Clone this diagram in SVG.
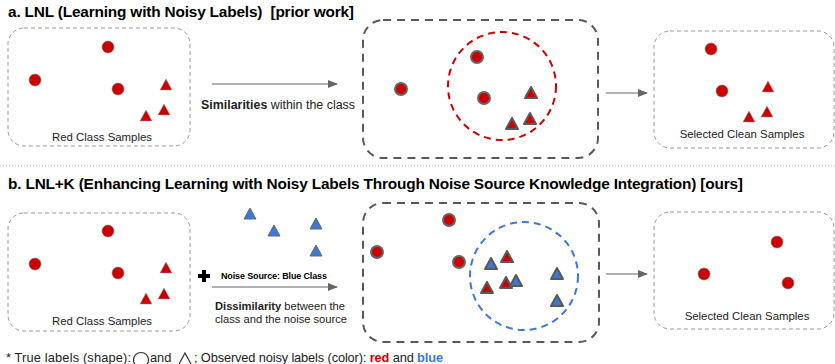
<svg xmlns="http://www.w3.org/2000/svg" width="835" height="364" viewBox="0 0 835 364">
<style>
text{font-family:"Liberation Sans",Arial,sans-serif;fill:#000}
.title{font-size:15.4px;font-weight:bold}
.lbl{font-size:11.4px;fill:#222}
.desc{font-size:12.4px;fill:#222}
.desc2{font-size:11.2px;fill:#222}
.leg{font-size:12.8px;fill:#222}
.thin{fill:none;stroke:#999;stroke-width:1;stroke-dasharray:4 3}
.thick{fill:none;stroke:#595959;stroke-width:2;stroke-dasharray:8 6}
.rc{fill:#cc0000;stroke:#777;stroke-width:0.6}
.rcs{fill:#cc0000;stroke:#666;stroke-width:2}
.bt{fill:#3c78d8;stroke:#666;stroke-width:1}
.bts{fill:#3c78d8;stroke:#595959;stroke-width:2;stroke-linejoin:round}
.rts{fill:#cc0000;stroke:#595959;stroke-width:2;stroke-linejoin:round}
.rt{fill:#cc0000;stroke:#999;stroke-width:0.5}
.arr{stroke:#666;stroke-width:1.2;fill:none;marker-end:url(#ah)}
</style>
<defs>
<marker id="ah" markerWidth="10" markerHeight="8" refX="9" refY="4" orient="auto" markerUnits="userSpaceOnUse">
<path d="M0,0 L10,4 L0,8 z" fill="#666"/>
</marker>
<path id="tri" d="M0,-6 L6,5 L-6,5 z"/>
</defs>

<g id="titles">
<text class="title" x="8" y="17" xml:space="preserve" textLength="346">a. LNL (Learning with Noisy Labels)  [prior work]</text>
<text class="title" x="8" y="189" textLength="735">b. LNL+K (Enhancing Learning with Noisy Labels Through Noise Source Knowledge Integration) [ours]</text>
</g>

<line x1="0" y1="166" x2="835" y2="166" stroke="#aaa" stroke-width="1" stroke-dasharray="1 2"/>

<g id="connectors">
<line class="arr" x1="212" y1="84" x2="337" y2="84"/>
<line class="arr" x1="606" y1="93" x2="647" y2="93"/>
<line class="arr" x1="212" y1="287" x2="337" y2="287"/>
<line class="arr" x1="606" y1="274" x2="647" y2="274"/>
<text class="desc" x="201" y="109" textLength="154"><tspan font-weight="bold">Similarities</tspan> within the class</text>
<text x="221" y="279" font-size="9" font-weight="bold" fill="#000" textLength="106">Noise Source: Blue Class</text>
<text class="desc2" x="215" y="310" textLength="130"><tspan font-weight="bold">Dissimilarity</tspan> between the</text>
<text class="desc2" x="215" y="323" textLength="132">class and the noise source</text>
<path d="M198,274 h4 v-4 h4 v4 h4 v4 h-4 v4 h-4 v-4 h-4 z" fill="#000"/>
</g>

<!-- Top row -->
<g id="a-red-class">
<rect class="thin" x="8" y="28" width="182" height="118" rx="16"/>
<circle class="rc" cx="108" cy="47" r="6"/>
<circle class="rc" cx="35" cy="80" r="6"/>
<circle class="rc" cx="118" cy="89" r="6"/>
<use href="#tri" class="rt" x="166" y="85"/>
<use href="#tri" class="rt" x="146" y="116"/>
<use href="#tri" class="rt" x="164" y="110"/>
<text class="lbl" x="102" y="141" text-anchor="middle">Red Class Samples</text>
</g>

<g id="a-similarity">
<rect class="thick" x="363" y="20" width="235" height="138" rx="20"/>
<circle cx="502" cy="86" r="54" fill="none" stroke="#cc0000" stroke-width="2" stroke-dasharray="7 5"/>
<circle class="rcs" cx="401" cy="89" r="6"/>
<circle class="rcs" cx="477" cy="57" r="6"/>
<circle class="rcs" cx="484" cy="98" r="6"/>
<use href="#tri" class="rts" x="531" y="93"/>
<use href="#tri" class="rts" x="530" y="119"/>
<use href="#tri" class="rts" x="512" y="124"/>
</g>

<g id="a-selected">
<rect class="thin" x="654" y="31" width="180" height="117" rx="16"/>
<circle class="rc" cx="711" cy="49" r="6"/>
<circle class="rc" cx="722" cy="91" r="6"/>
<use href="#tri" class="rt" x="768" y="87"/>
<use href="#tri" class="rt" x="749" y="117"/>
<use href="#tri" class="rt" x="767" y="112"/>
<text class="lbl" x="742" y="138" text-anchor="middle">Selected Clean Samples</text>
</g>

<!-- Bottom row -->
<g id="b-red-class">
<rect class="thin" x="8" y="213" width="182" height="118" rx="16"/>
<circle class="rc" cx="108" cy="231" r="6"/>
<circle class="rc" cx="35" cy="264" r="6"/>
<circle class="rc" cx="118" cy="273" r="6"/>
<use href="#tri" class="rt" x="166" y="268"/>
<use href="#tri" class="rt" x="146" y="299"/>
<use href="#tri" class="rt" x="164" y="294"/>
<text class="lbl" x="102" y="325" text-anchor="middle">Red Class Samples</text>
</g>

<g id="b-blue-class">
<use href="#tri" class="bt" x="250" y="214"/>
<use href="#tri" class="bt" x="274" y="231"/>
<use href="#tri" class="bt" x="316" y="224"/>
<use href="#tri" class="bt" x="316" y="251"/>
</g>

<g id="b-dissimilarity">
<rect class="thick" x="363" y="203" width="236" height="139" rx="20"/>
<circle cx="524" cy="276" r="54" fill="none" stroke="#3c78d8" stroke-width="2" stroke-dasharray="7 5"/>
<circle class="rcs" cx="449" cy="220" r="6"/>
<circle class="rcs" cx="377" cy="252" r="6"/>
<circle class="rcs" cx="459" cy="262" r="6"/>
<use href="#tri" class="rts" x="507" y="257"/>
<use href="#tri" class="bts" x="491" y="264"/>
<use href="#tri" class="rts" x="487" y="288"/>
<use href="#tri" class="rts" x="506" y="283"/>
<use href="#tri" class="bts" x="516" y="281"/>
<use href="#tri" class="bts" x="557" y="274"/>
<use href="#tri" class="bts" x="557" y="301"/>
</g>

<g id="b-selected">
<rect class="thin" x="654" y="212" width="180" height="117" rx="16"/>
<circle class="rc" cx="777" cy="242" r="6"/>
<circle class="rc" cx="704" cy="274" r="6"/>
<circle class="rc" cx="788" cy="283" r="6"/>
<text class="lbl" x="747" y="320" text-anchor="middle">Selected Clean Samples</text>
</g>

<g id="legend">
<text class="leg" x="6" y="362" textLength="125">* True labels (shape):</text>
<circle cx="141" cy="360" r="7.5" fill="none" stroke="#333" stroke-width="1.2"/>
<text class="leg" x="150" y="362">and</text>
<path d="M178,366 L185,353 L192,366 z" fill="none" stroke="#333" stroke-width="1.2"/>
<text class="leg" x="194" y="362" textLength="249">; Observed noisy labels (color): <tspan font-weight="bold" fill="#cc0000">red</tspan> and <tspan font-weight="bold" fill="#3c78d8">blue</tspan></text>
</g>
</svg>
